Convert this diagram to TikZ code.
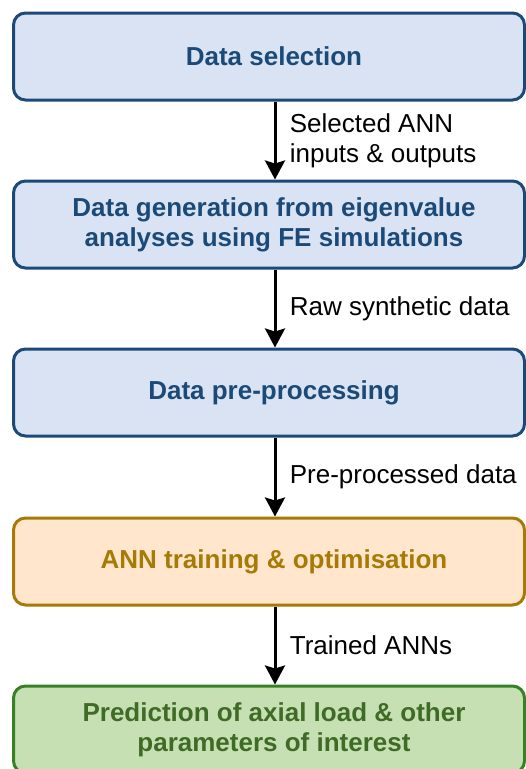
\documentclass[tikz,border=0pt]{standalone}
\usepackage{fontspec}
\setmainfont{Liberation Sans}
\usepackage{tikz}
\usetikzlibrary{arrows.meta}
\definecolor{bluefill}{HTML}{DAE3F3}
\definecolor{bluedark}{HTML}{1B4A78}
\definecolor{orangefill}{HTML}{FFE6CC}
\definecolor{orangedark}{HTML}{A77A05}
\definecolor{greenfill}{HTML}{C6E0B4}
\definecolor{greendark}{HTML}{3F6B27}

\begin{document}
\begin{tikzpicture}[x=1pt,y=-1pt,>={Stealth[length=19pt,width=20pt,inset=3pt]},
  every node/.style={align=center, font=\fontsize{26}{30}\selectfont},
  stagebox/.style={rounded corners=12pt, line width=3pt, minimum width=511pt, minimum height=87pt, font=\fontsize{26}{30}\selectfont\bfseries},
  flowlabel/.style={anchor=west, align=left, xshift=10pt}]
\useasboundingbox (0,0) rectangle (526,769);
\node[stagebox,draw=bluedark,fill=bluefill,text=bluedark] (sel) at (269,56.5) {\hspace*{10pt}Data selection};
\node[stagebox,draw=bluedark,fill=bluefill,text=bluedark] (gen) at (269,224.5) {\hspace*{10pt}Data generation from eigenvalue\\\hspace*{10pt}analyses using FE simulations};
\node[stagebox,draw=bluedark,fill=bluefill,text=bluedark] (pre) at (269,392.5) {\hspace*{10pt}Data pre-processing};
\node[stagebox,draw=orangedark,fill=orangefill,text=orangedark] (ann) at (269,561.5) {\hspace*{10pt}ANN training \& optimisation};
\node[stagebox,draw=greendark!85!green,fill=greenfill,text=greendark] (pred) at (269,729.5) {\hspace*{10pt}Prediction of axial load \& other\\\hspace*{10pt}parameters of interest};
\draw[->,line width=3pt] ([xshift=6pt]sel.south) -- node[flowlabel] {Selected ANN\\inputs \& outputs} ([xshift=6pt]gen.north);
\draw[->,line width=3pt] ([xshift=6pt]gen.south) -- node[flowlabel] {Raw synthetic data} ([xshift=6pt]pre.north);
\draw[->,line width=3pt] ([xshift=6pt]pre.south) -- node[flowlabel] {Pre-processed data} ([xshift=6pt]ann.north);
\draw[->,line width=3pt] ([xshift=6pt]ann.south) -- node[flowlabel] {Trained ANNs} ([xshift=6pt]pred.north);
\end{tikzpicture}
\end{document}
